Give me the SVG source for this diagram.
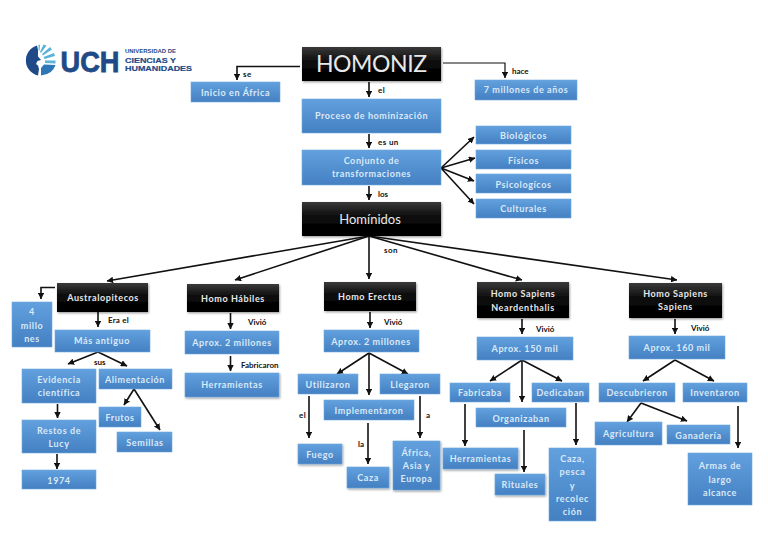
<svg xmlns="http://www.w3.org/2000/svg" width="768" height="543" viewBox="0 0 768 543">
<style>
.b{fill:url(#blue);stroke:#6fa8dc;stroke-width:.6}
.s{filter:url(#sh)}
.k{fill:url(#black);filter:url(#sh)}
text{font-family:Lato,"Open Sans","Liberation Sans",sans-serif}
.t{fill:#dbe9f8;font-size:9px;font-weight:700;letter-spacing:.6px;text-anchor:middle}
.w{fill:#e8e8e8;font-size:9px;font-weight:700;letter-spacing:.6px;text-anchor:middle}
.l{fill:#111;font-size:8px;font-weight:700}
.c{fill:none;stroke:#111;stroke-width:1.6;marker-end:url(#a)}
.u{fill:#1f4a87;font-weight:700;font-family:"Liberation Sans",sans-serif}
</style>
<defs>
<linearGradient id="blue" x1="0" y1="0" x2="0" y2="1"><stop offset="0" stop-color="#62a0de"/><stop offset="1" stop-color="#4480c2"/></linearGradient>
<linearGradient id="black" x1="0" y1="0" x2="0" y2="1"><stop offset="0" stop-color="#3a3a3a"/><stop offset=".45" stop-color="#0a0a0a"/><stop offset="1" stop-color="#000"/></linearGradient>
<filter id="sh" x="-10%" y="-15%" width="120%" height="135%"><feDropShadow dx="0.8" dy="1.2" stdDeviation="1" flood-color="#000" flood-opacity=".4"/></filter>
<marker id="a" viewBox="0 0 10 10" refX="9.5" refY="5" markerWidth="6.5" markerHeight="6.5" markerUnits="userSpaceOnUse" orient="auto"><path d="M0 0L10 5L0 10z" fill="#111"/></marker>
</defs>
<rect width="768" height="543" fill="#fff"/>

<g id="logo">
<path d="M37 45.500A15.500 15.500 0 0 0 38 75.500L39 69L38 65.500L36 64L37.500 61L41 60L38 56.500L38 50z" fill="#1f4a87"/>
<path d="M41 75.500Q52.500 74.500 55.500 65L44 64.500L41 68z" fill="#2d76b8"/>
<path d="M45 63L55.500 63.500L55.500 60.500L45 60.500zM44.500 59L55 56L54 53L43.500 57zM43 55.500L52 49.500L50 47L42 54zM41 53L46.500 45.500L43.500 44.500L40 52zM39.500 51L40 44.500L38.500 45L38.500 50z" fill="#58b4d8"/>
<text class="u" x="60.500" y="71.500" font-size="29" stroke="#1f4a87" stroke-width=".8" textLength="59" lengthAdjust="spacingAndGlyphs">UCH</text>
<text class="u" x="125" y="53" font-size="5.500" textLength="51" lengthAdjust="spacingAndGlyphs">UNIVERSIDAD DE</text>
<text class="u" x="125" y="63" font-size="8" stroke="#1f4a87" stroke-width=".2" textLength="51" lengthAdjust="spacingAndGlyphs">CIENCIAS Y</text>
<text class="u" x="125" y="71" font-size="8" stroke="#1f4a87" stroke-width=".2" textLength="67" lengthAdjust="spacingAndGlyphs">HUMANIDADES</text>
</g>

<g id="connectors">
<path class="c" d="M300 66.500H237V80"/>
<path class="c" d="M443 63H505V78" style="stroke-width:1.2"/>
<path class="c" d="M369 82V97"/>
<path class="c" d="M369 134V148"/>
<path class="c" d="M369 186V200"/>
<path class="c" d="M441 168L474 137"/>
<path class="c" d="M441 168L475 158"/>
<path class="c" d="M441 168L474 181"/>
<path class="c" d="M441 168L474 204"/>
<path class="c" d="M369 236L107 281"/>
<path class="c" d="M369 236L235 280"/>
<path class="c" d="M369 236V279"/>
<path class="c" d="M369 236L522 280"/>
<path class="c" d="M369 236L677 280"/>
<path class="c" d="M55 287.500H41V299"/>
<path class="c" d="M98 312V327"/>
<path class="c" d="M98 352L68 364"/>
<path class="c" d="M98 352L127 366"/>
<path class="c" d="M57.500 404V418"/>
<path class="c" d="M57 454V469"/>
<path class="c" d="M134 389L124 405"/>
<path class="c" d="M134 389L160 430"/>
<path class="c" d="M230.500 313V329"/>
<path class="c" d="M230.500 356V371"/>
<path class="c" d="M370 312V328"/>
<path class="c" d="M369 353L337 374"/>
<path class="c" d="M369 353V395"/>
<path class="c" d="M369 353L408 374"/>
<path class="c" d="M309 396V438"/>
<path class="c" d="M368 423V464"/>
<path class="c" d="M420 396V438"/>
<path class="c" d="M522 319V334"/>
<path class="c" d="M522 360L490 381"/>
<path class="c" d="M522 360V402"/>
<path class="c" d="M522 360L562 381"/>
<path class="c" d="M465 404V446"/>
<path class="c" d="M524 430V472"/>
<path class="c" d="M576 403V445"/>
<path class="c" d="M675 319V334"/>
<path class="c" d="M675 360L643 381"/>
<path class="c" d="M675 360L714 381"/>
<path class="c" d="M641 403L627 422"/>
<path class="c" d="M641 403L687 421"/>
<path class="c" d="M738 406V448"/>
</g>

<g id="labels">
<text class="l" x="243" y="77" letter-spacing=".4">se</text>
<text class="l" x="378" y="93" letter-spacing=".4">el</text>
<text class="l" x="512" y="74">hace</text>
<text class="l" x="378" y="145" letter-spacing=".4">es un</text>
<text class="l" x="378" y="197">los</text>
<text class="l" x="384" y="253" letter-spacing=".4">son</text>
<text class="l" x="108" y="323" letter-spacing=".2">Era el</text>
<text class="l" x="94" y="365">sus</text>
<text class="l" x="248" y="325">Vivió</text>
<text class="l" x="241" y="368">Fabricaron</text>
<text class="l" x="384" y="325">Vivió</text>
<text class="l" x="299" y="418" letter-spacing=".4">el</text>
<text class="l" x="358" y="447">la</text>
<text class="l" x="426" y="418">a</text>
<text class="l" x="536" y="332">Vivió</text>
<text class="l" x="691" y="331">Vivió</text>
</g>

<g id="n-homoniz"><rect class="k" x="302" y="47" width="139" height="34"/><text class="w" x="371.500" y="72" textLength="111" style="font-size:23px;font-weight:400;letter-spacing:0">HOMONIZ</text></g>
<g id="n-inicio"><rect class="b" x="191" y="82" width="89" height="20"/><text class="t" x="235.500" y="96">Inicio en África</text></g>
<g id="n-7m"><rect class="b" x="475" y="80" width="102" height="20"/><text class="t" x="526" y="93">7 millones de años</text></g>
<g id="n-proceso"><rect class="b" x="302" y="99" width="139" height="34"/><text class="t" x="371.500" y="119">Proceso de hominización</text></g>
<g id="n-conjunto"><rect class="b" x="302" y="150" width="139" height="35"/><text class="t" x="371.500" y="164">Conjunto de</text><text class="t" x="371.500" y="177">transformaciones</text></g>
<g id="n-hominidos"><rect class="k" x="302" y="202" width="139" height="34"/><text class="w" x="370" y="224" style="font-size:13px;font-weight:400;letter-spacing:0">Homínidos</text></g>
<g id="n-bio"><rect class="b" x="476" y="126" width="95" height="18"/><text class="t" x="523.500" y="139">Biológicos</text></g>
<g id="n-fis"><rect class="b" x="476" y="150" width="95" height="19"/><text class="t" x="523.500" y="164">Físicos</text></g>
<g id="n-psi"><rect class="b" x="476" y="174" width="95" height="19"/><text class="t" x="523.500" y="188">Psicologícos</text></g>
<g id="n-cul"><rect class="b" x="476" y="199" width="95" height="19"/><text class="t" x="523.500" y="212">Culturales</text></g>

<g id="n-austral"><rect class="k" x="57" y="283" width="91" height="29"/><text class="w" x="103" y="301">Australopitecos</text></g>
<g id="n-4m"><rect class="b" x="12" y="302" width="40" height="45"/><text class="t" x="32" y="315">4</text><text class="t" x="32" y="329">millo</text><text class="t" x="32" y="342">nes</text></g>
<g id="n-antiguo"><rect class="b" x="55" y="330" width="95" height="22"/><text class="t" x="102" y="344">Más antiguo</text></g>
<g id="n-evidencia"><rect class="b" x="22" y="369" width="74" height="34"/><text class="t" x="59" y="383">Evidencia</text><text class="t" x="59" y="396">científica</text></g>
<g id="n-alim"><rect class="b" x="99" y="369" width="73" height="20"/><text class="t" x="135" y="383">Alimentación</text></g>
<g id="n-frutos"><rect class="b" x="99" y="407" width="42" height="20"/><text class="t" x="120" y="421">Frutos</text></g>
<g id="n-semillas"><rect class="b" x="117" y="432" width="55" height="20"/><text class="t" x="145" y="446">Semillas</text></g>
<g id="n-restos"><rect class="b" x="22" y="420" width="74" height="33"/><text class="t" x="59" y="434">Restos de</text><text class="t" x="59" y="447">Lucy</text></g>
<g id="n-1974"><rect class="b" x="22" y="470" width="74" height="19"/><text class="t" x="59" y="484">1974</text></g>

<g id="n-habiles"><rect class="k" x="187" y="284" width="92" height="28"/><text class="w" x="233" y="302">Homo Hábiles</text></g>
<g id="n-aprox1"><rect class="b" x="185" y="331" width="94" height="23"/><text class="t" x="232" y="346">Aprox. 2 millones</text></g>
<g id="n-herr1"><g class="s"><rect class="b" x="185" y="373" width="94" height="24"/></g><text class="t" x="232" y="388">Herramientas</text></g>

<g id="n-erectus"><rect class="k" x="324" y="282" width="92" height="29"/><text class="w" x="370" y="300">Homo Erectus</text></g>
<g id="n-aprox2"><rect class="b" x="324" y="330" width="95" height="22"/><text class="t" x="371" y="345">Aprox. 2 millones</text></g>
<g id="n-utiliz"><rect class="b" x="298" y="374" width="60" height="20"/><text class="t" x="328" y="388">Utilizaron</text></g>
<g id="n-llegaron"><rect class="b" x="380" y="374" width="60" height="20"/><text class="t" x="410" y="388">Llegaron</text></g>
<g id="n-impl"><rect class="b" x="324" y="400" width="90" height="20"/><text class="t" x="369" y="414">Implementaron</text></g>
<g id="n-fuego"><g class="s"><rect class="b" x="298" y="444" width="44" height="20"/></g><text class="t" x="320" y="458">Fuego</text></g>
<g id="n-caza"><g class="s"><rect class="b" x="347" y="467" width="42" height="21"/></g><text class="t" x="368" y="481">Caza</text></g>
<g id="n-africa"><g class="s"><rect class="b" x="393" y="441" width="47" height="49"/></g><text class="t" x="416.500" y="456">África,</text><text class="t" x="416.500" y="469">Asia y</text><text class="t" x="416.500" y="482">Europa</text></g>

<g id="n-neander"><rect class="k" x="477" y="282" width="92" height="36"/><text class="w" x="523" y="297">Homo Sapiens</text><text class="w" x="523" y="311">Neardenthalis</text></g>
<g id="n-aprox3"><rect class="b" x="477" y="337" width="96" height="23"/><text class="t" x="525" y="352">Aprox. 150 mil</text></g>
<g id="n-fabr"><rect class="b" x="450" y="383" width="60" height="19"/><text class="t" x="480" y="396">Fabricaba</text></g>
<g id="n-organ"><rect class="b" x="476" y="408" width="90" height="19"/><text class="t" x="521" y="422">Organizaban</text></g>
<g id="n-dedic"><rect class="b" x="532" y="383" width="57" height="19"/><text class="t" x="560.500" y="396">Dedicaban</text></g>
<g id="n-herr2"><g class="s"><rect class="b" x="443" y="448" width="75" height="21"/></g><text class="t" x="480.500" y="462">Herramientas</text></g>
<g id="n-ritual"><g class="s"><rect class="b" x="495" y="474" width="50" height="21"/></g><text class="t" x="520" y="488">Rituales</text></g>
<g id="n-cazapesca"><rect class="b" x="549" y="448" width="47" height="73"/><text class="t" x="572.500" y="462">Caza,</text><text class="t" x="572.500" y="475">pesca</text><text class="t" x="572.500" y="489">y</text><text class="t" x="572.500" y="502">recolec</text><text class="t" x="572.500" y="515">ción</text></g>

<g id="n-sapiens"><rect class="k" x="629" y="283" width="93" height="35"/><text class="w" x="675.500" y="297">Homo Sapiens</text><text class="w" x="675.500" y="310">Sapiens</text></g>
<g id="n-aprox4"><rect class="b" x="629" y="336" width="96" height="23"/><text class="t" x="677" y="351">Aprox. 160 mil</text></g>
<g id="n-descub"><rect class="b" x="599" y="383" width="76" height="19"/><text class="t" x="637" y="396">Descubrieron</text></g>
<g id="n-invent"><rect class="b" x="683" y="383" width="64" height="19"/><text class="t" x="715" y="396">Inventaron</text></g>
<g id="n-agri"><rect class="b" x="595" y="422" width="67" height="23"/><text class="t" x="628.500" y="437">Agricultura</text></g>
<g id="n-gana"><rect class="b" x="667" y="425" width="63" height="19"/><text class="t" x="698.500" y="439">Ganadería</text></g>
<g id="n-armas"><rect class="b" x="688" y="453" width="64" height="52"/><text class="t" x="720" y="469">Armas de</text><text class="t" x="720" y="483">largo</text><text class="t" x="720" y="496">alcance</text></g>
</svg>
